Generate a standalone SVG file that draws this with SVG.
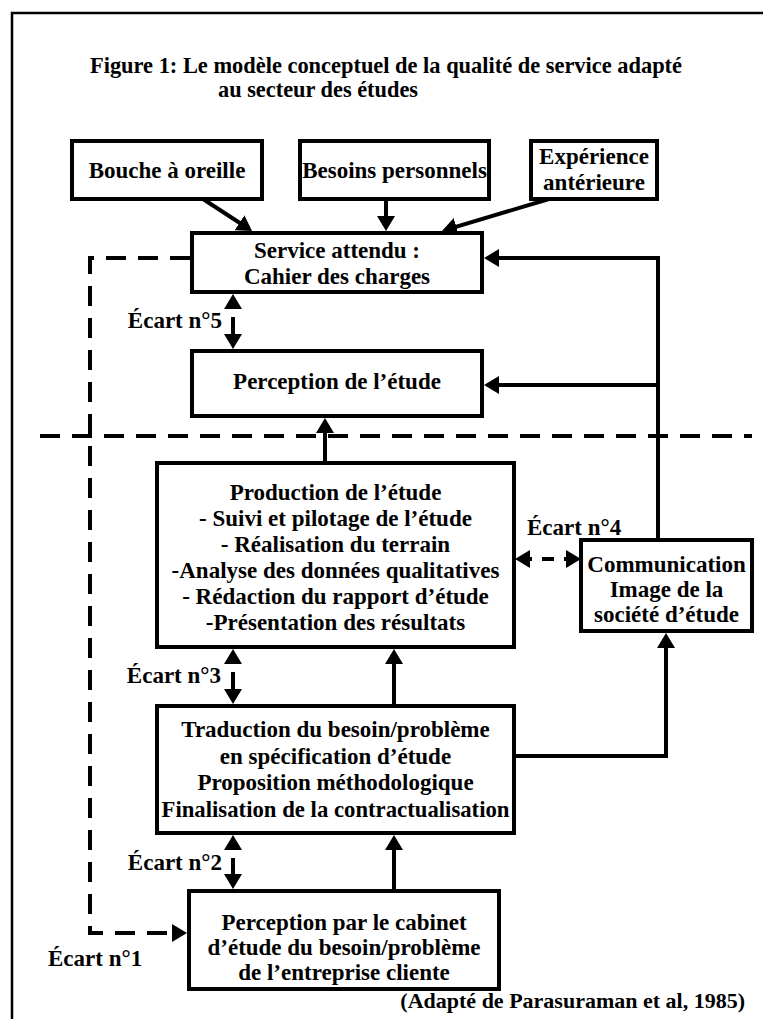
<svg xmlns="http://www.w3.org/2000/svg" width="763" height="1019" viewBox="0 0 763 1019">
<style>
  text { font-family: "Liberation Serif", "Times New Roman", serif; font-weight: bold; font-size: 23px; fill: #000; }
  .c { text-anchor: middle; }
  .e { text-anchor: end; }
  .box { fill: #fff; stroke: #000; stroke-width: 4; }
  .ln { fill: none; stroke: #000; stroke-width: 4; }
  .ar { marker-end: url(#ah); }
  .dar { marker-start: url(#ah); marker-end: url(#ah); }
  .dash { stroke-dasharray: 20 12; }
</style>
<defs>
  <marker id="ah" markerUnits="userSpaceOnUse" markerWidth="15" markerHeight="18" refX="11" refY="9" orient="auto-start-reverse" viewBox="0 0 15 18">
    <path d="M0,0 L15,9 L0,18 z" fill="#000"/>
  </marker>
</defs>
<rect x="12" y="13" width="780" height="1040" fill="#fff" stroke="#000" stroke-width="2.5"/>
<g id="title">
  <text x="90" y="73" textLength="592" lengthAdjust="spacingAndGlyphs">Figure 1: Le modèle conceptuel de la qualité de service adapté</text>
  <text x="218" y="97" textLength="200" lengthAdjust="spacingAndGlyphs">au secteur des études</text>
</g>
<g id="connectors">
  <line class="ln ar" x1="203" y1="199" x2="248.7" y2="228.8"/>
  <line class="ln ar" x1="386" y1="199" x2="386" y2="227"/>
  <line class="ln ar" x1="549" y1="199" x2="445.8" y2="229.9"/>
  <path class="ln ar" d="M658,540 V258 H488"/>
  <path class="ln ar" d="M658,385 H488"/>
  <path class="ln ar" d="M325,463 V422"/>
  <path class="ln dar" d="M233,298 V345" stroke-dasharray="11 8 28"/>
  <path class="ln ar dash" d="M190,258 H90 V933 H183"/>
  <path class="ln dar" d="M519,559 H577" stroke-dasharray="13 10 12 10 13"/>
  <path class="ln dar" d="M233,653 V700" stroke-dasharray="11 8 28"/>
  <path class="ln ar" d="M394,706 V653"/>
  <path class="ln ar" d="M514,756 H666 V637"/>
  <path class="ln dar" d="M233,839 V885" stroke-dasharray="11 8 27"/>
  <path class="ln ar" d="M394,891 V839"/>
</g>
<g id="n-bouche">
  <rect class="box" x="72" y="141" width="190" height="58"/>
  <text class="c" x="167" y="178">Bouche à oreille</text>
</g>
<g id="n-besoins">
  <rect class="box" x="300" y="141" width="189" height="58"/>
  <text class="c" x="394.5" y="178">Besoins personnels</text>
</g>
<g id="n-experience">
  <rect class="box" x="531" y="141" width="126" height="58"/>
  <text class="c" x="594" y="164">Expérience</text>
  <text class="c" x="594" y="190">antérieure</text>
</g>
<g id="n-service">
  <rect class="box" x="192" y="233" width="290" height="59"/>
  <text class="c" x="337" y="258">Service attendu :</text>
  <text class="c" x="337" y="284">Cahier des charges</text>
</g>
<g id="n-perception">
  <rect class="box" x="192" y="351" width="290" height="65"/>
  <text class="c" x="337" y="389">Perception de l’étude</text>
</g>
<line id="frontiere" x1="40" y1="436" x2="752" y2="436" class="ln dash"/>
<g id="n-production">
  <rect class="box" x="157" y="463" width="357" height="184"/>
  <text class="c" x="335.5" y="500">Production de l’étude</text>
  <text class="c" x="335.5" y="526">- Suivi et pilotage de l’étude</text>
  <text class="c" x="335.5" y="552">- Réalisation du terrain</text>
  <text class="c" x="335.5" y="578">-Analyse des données qualitatives</text>
  <text class="c" x="335.5" y="604">- Rédaction du rapport d’étude</text>
  <text class="c" x="335.5" y="630">-Présentation des résultats</text>
</g>
<g id="n-communication">
  <rect class="box" x="581" y="540" width="171" height="91"/>
  <text class="c" x="666.5" y="572">Communication</text>
  <text class="c" x="666.5" y="597">Image de la</text>
  <text class="c" x="666.5" y="622">société d’étude</text>
</g>
<g id="n-traduction">
  <rect class="box" x="157" y="706" width="357" height="127"/>
  <text class="c" x="335.5" y="737">Traduction du besoin/problème</text>
  <text class="c" x="335.5" y="764">en spécification d’étude</text>
  <text class="c" x="335.5" y="790">Proposition méthodologique</text>
  <text class="c" x="335.5" y="817" textLength="348" lengthAdjust="spacingAndGlyphs">Finalisation de la contractualisation</text>
</g>
<g id="n-cabinet">
  <rect class="box" x="189" y="891" width="310" height="98"/>
  <text class="c" x="344" y="930">Perception par le cabinet</text>
  <text class="c" x="344" y="955">d’étude du besoin/problème</text>
  <text class="c" x="344" y="980">de l’entreprise cliente</text>
</g>
<g id="labels">
  <text class="e" x="222" y="328">Écart n°5</text>
  <text x="527" y="535">Écart n°4</text>
  <text class="e" x="221" y="683">Écart n°3</text>
  <text class="e" x="222" y="870">Écart n°2</text>
  <text x="48" y="966">Écart n°1</text>
  <text class="e" x="745" y="1008" style="font-size:22px">(Adapté de Parasuraman et al, 1985)</text>
</g>
</svg>
